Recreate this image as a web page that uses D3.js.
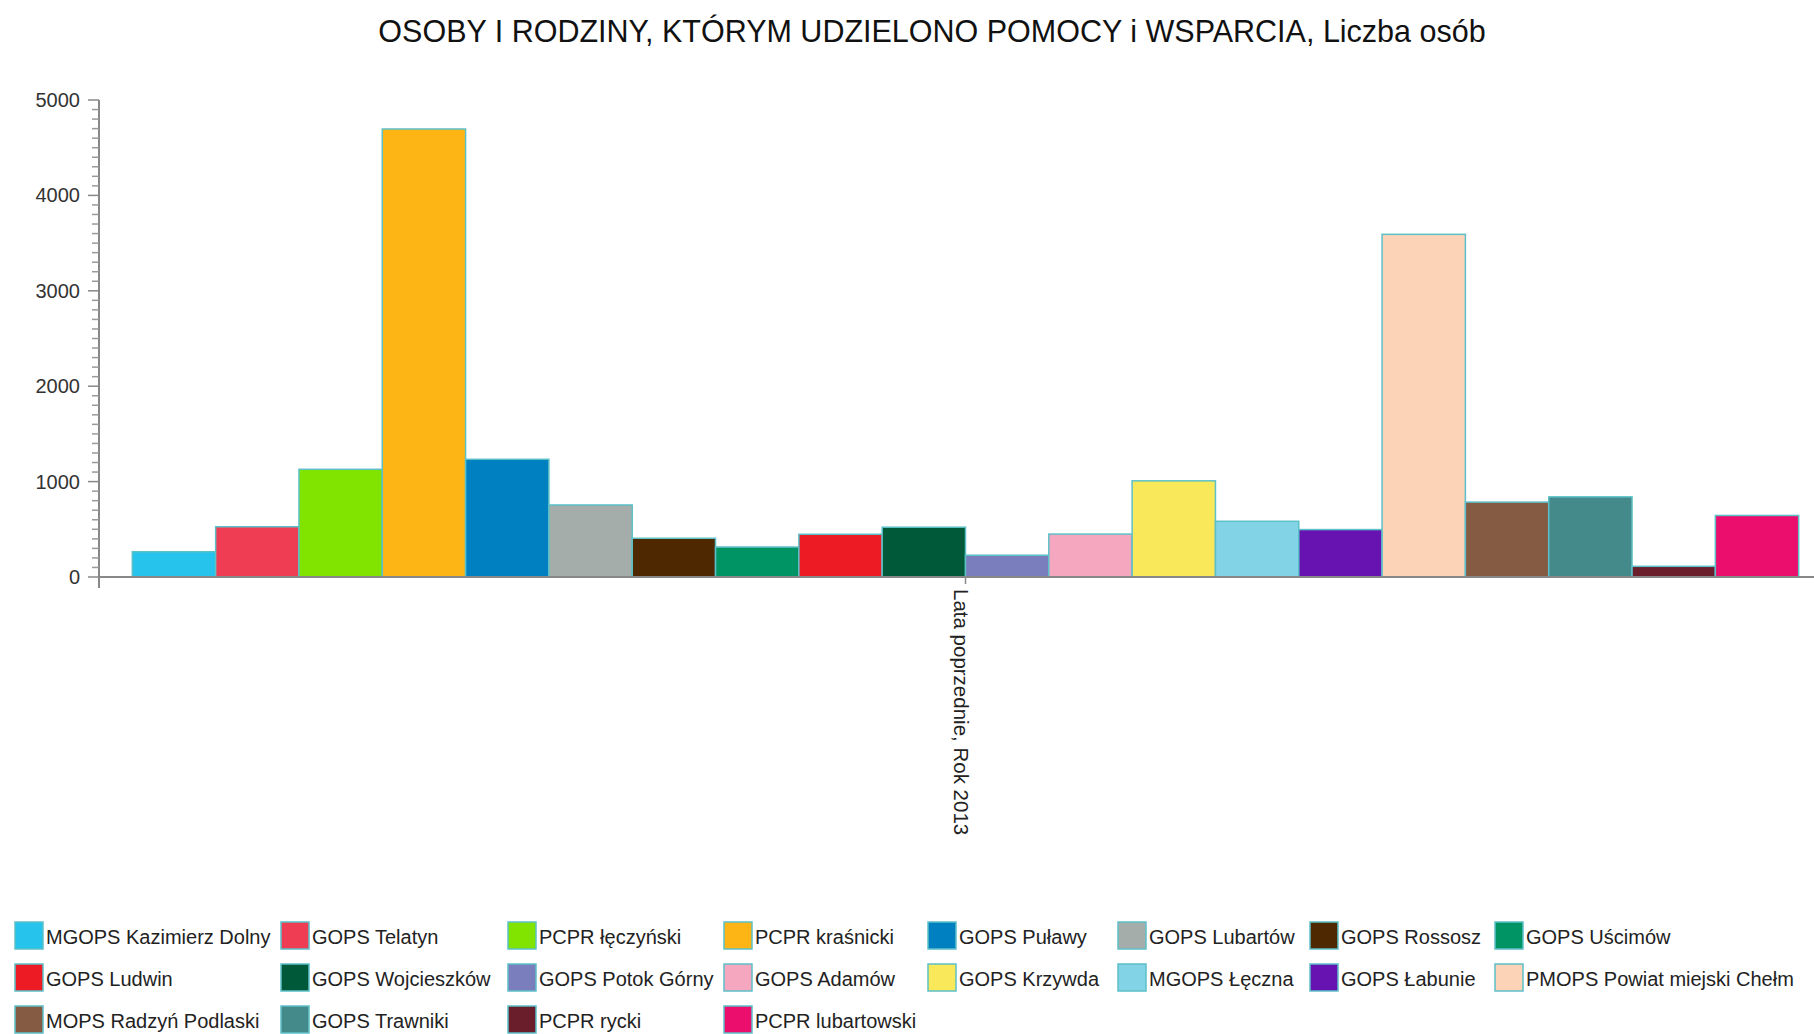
<!DOCTYPE html>
<html><head><meta charset="utf-8">
<script src="https://cdn.jsdelivr.net/npm/d3@7"></script>
<style>
html,body{margin:0;padding:0;background:#fff;}
svg{display:block;font-family:"Liberation Sans",Arial,sans-serif;}
</style></head>
<body>
<svg id="chart" width="1814" height="1034"></svg>
<script>
const title = "OSOBY I RODZINY, KTÓRYM UDZIELONO POMOCY i WSPARCIA, Liczba osób";
const categories = ["Lata poprzednie, Rok 2013"];
const seriesNames = [
  "MGOPS Kazimierz Dolny","GOPS Telatyn","PCPR łęczyński","PCPR kraśnicki","GOPS Puławy",
  "GOPS Lubartów","GOPS Rossosz","GOPS Uścimów","GOPS Ludwin","GOPS Wojcieszków",
  "GOPS Potok Górny","GOPS Adamów","GOPS Krzywda","MGOPS Łęczna","GOPS Łabunie",
  "PMOPS Powiat miejski Chełm","MOPS Radzyń Podlaski","GOPS Trawniki","PCPR rycki","PCPR lubartowski"
];
const seriesValues = [265, 527, 1129, 4696, 1234, 755, 406, 314, 448, 522, 228, 450, 1008, 584, 497, 3592, 785, 840, 112, 645];
const seriesColors = [
  "#26c4ec","#ef3e54","#80e400","#fdb515","#0080c1",
  "#a5adab","#4d2800","#009464","#ed1c24","#005a39",
  "#7b7ebc","#f4a7bf","#fae85b","#83d3e6","#6713b1",
  "#fdd3b8","#855c43","#448a8a","#6a1d2a","#eb0e6c"
];
const yTicks = [0, 1000, 2000, 3000, 4000, 5000];

const svg = d3.select("#chart");
const strokeCol = "#5cc0c8";

svg.append("text").attr("x", 932).attr("y", 42).attr("text-anchor", "middle")
  .attr("font-size", 30.5).attr("fill", "#111").text(title);

const y = d3.scaleLinear().domain([0, 5000]).range([577, 100]);
const x0 = d3.scaleBand().domain(categories).range([99, 1832]).paddingInner(0).paddingOuter(0.02);
const x1 = d3.scaleBand().domain(seriesNames).range([0, x0.bandwidth()]).padding(0);

// bars
const g = svg.append("g");
categories.forEach(cat => {
  g.selectAll("rect.bar").data(seriesNames.map((s, i) => ({s, v: seriesValues[i], c: seriesColors[i]})))
    .enter().append("rect")
    .attr("x", d => x0(cat) + x1(d.s))
    .attr("y", d => y(d.v))
    .attr("width", x1.bandwidth())
    .attr("height", d => y(0) - y(d.v))
    .attr("fill", d => d.c)
    .attr("stroke", strokeCol).attr("stroke-width", 1.5);
});

// x axis line
svg.append("line").attr("x1", 99).attr("x2", 1814).attr("y1", y(0)).attr("y2", y(0))
  .attr("stroke", "#888").attr("stroke-width", 2);
// category tick and label
categories.forEach(cat => {
  const cx = x0(cat) + x0.bandwidth() / 2;
  svg.append("line").attr("x1", cx).attr("x2", cx).attr("y1", y(0)).attr("y2", y(0) + 7)
    .attr("stroke", "#888").attr("stroke-width", 1.5);
  svg.append("text").attr("transform", `translate(${cx - 4},${y(0) + 12}) rotate(90)`)
    .attr("dy", "0.35em").attr("font-size", 20.5).attr("fill", "#222").text(cat);
});

// y axis
const yAxis = svg.append("g");
yAxis.append("line").attr("x1", 99).attr("x2", 99).attr("y1", 100).attr("y2", 588)
  .attr("stroke", "#888").attr("stroke-width", 2);
const minor = d3.range(0, 5001, 100).filter(v => v % 1000 !== 0);
yAxis.selectAll("line.minor").data(minor).enter().append("line")
  .attr("x1", 92).attr("x2", 99).attr("y1", d => y(d)).attr("y2", d => y(d))
  .attr("stroke", "#999").attr("stroke-width", 1.5);
yAxis.selectAll("line.major").data(yTicks).enter().append("line")
  .attr("x1", 88).attr("x2", 99).attr("y1", d => y(d)).attr("y2", d => y(d))
  .attr("stroke", "#888").attr("stroke-width", 1.5);
yAxis.selectAll("text").data(yTicks).enter().append("text")
  .attr("x", 80).attr("y", d => y(d)).attr("dy", "0.35em").attr("text-anchor", "end")
  .attr("font-size", 20).attr("fill", "#333").text(d => d);

// legend
const colX = [15, 281, 508, 724, 928, 1118, 1310, 1495];
const rowY = [922, 964, 1006];
const leg = svg.append("g");
seriesNames.forEach((s, i) => {
  const cx = colX[i % 8], ry = rowY[Math.floor(i / 8)];
  leg.append("rect").attr("x", cx).attr("y", ry).attr("width", 28).attr("height", 27)
    .attr("fill", seriesColors[i]).attr("stroke", strokeCol).attr("stroke-width", 1.5);
  leg.append("text").attr("x", cx + 31).attr("y", ry + 22).attr("font-size", 20)
    .attr("fill", "#222").text(s);
});
</script>
</body></html>
